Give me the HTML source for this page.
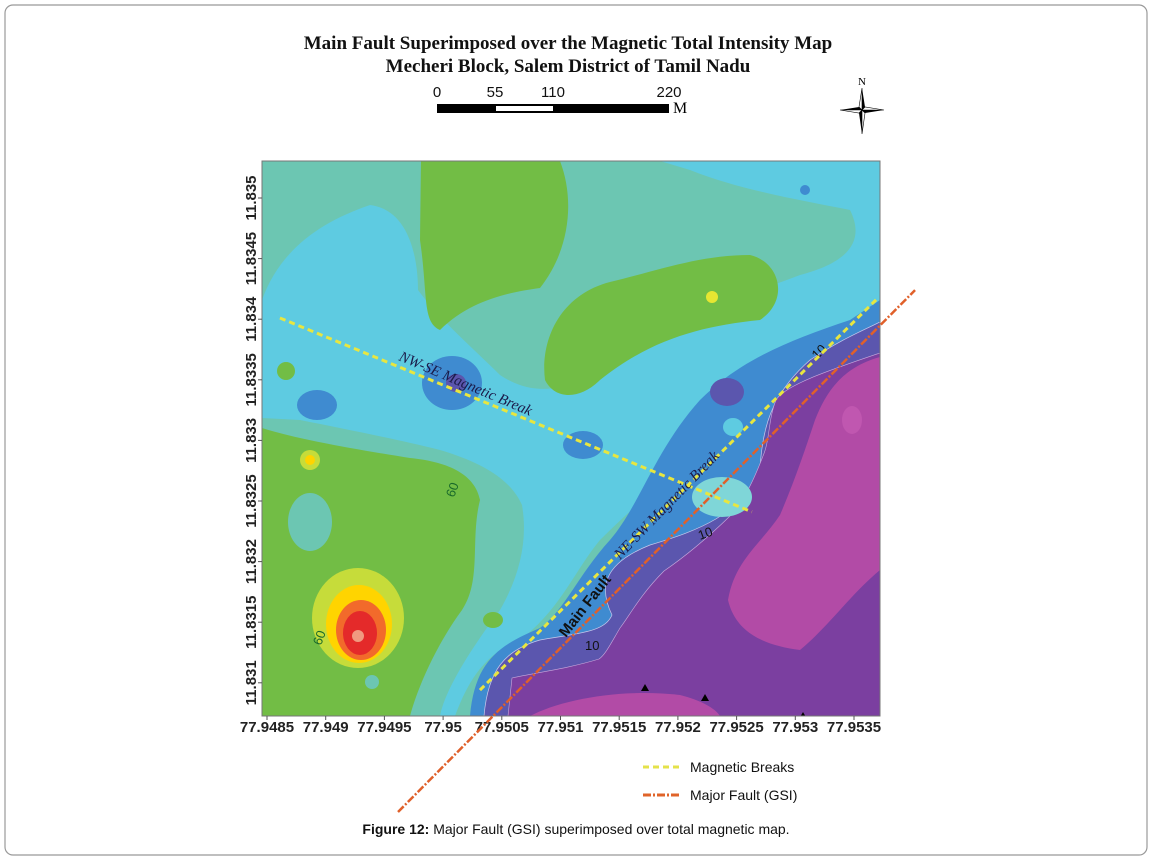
<!DOCTYPE html>
<html><head><meta charset="utf-8"><style>
body{margin:0;background:#fff;}
svg{display:block;font-family:"Liberation Sans",sans-serif;}
</style></head><body>
<svg width="1152" height="860" viewBox="0 0 1152 860">
<rect x="5" y="5" width="1142" height="850" rx="8" fill="#fff" stroke="#999" stroke-width="1.2"/>
<g font-family="Liberation Serif,serif" font-weight="bold" font-size="19" text-anchor="middle" fill="#111">
<text x="568" y="49">Main Fault Superimposed over the Magnetic Total Intensity Map</text>
<text x="568" y="72">Mecheri Block, Salem District of Tamil Nadu</text>
</g>
<g>
<rect x="437" y="104" width="232" height="9" fill="#000"/>
<rect x="496" y="106" width="57" height="5" fill="#fff"/>
<g font-size="15" text-anchor="middle" fill="#111">
<text x="437" y="97">0</text><text x="495" y="97">55</text><text x="553" y="97">110</text><text x="669" y="97">220</text>
</g>
<text x="673" y="113" font-family="Liberation Serif,serif" font-size="16">M</text>
</g>
<g transform="translate(862,110)">
<text x="0" y="-25" font-family="Liberation Serif,serif" font-size="11" text-anchor="middle">N</text>
<polygon points="0,-22 3,-3 0,0" fill="#000"/><polygon points="0,-22 -3,-3 0,0" fill="#fff" stroke="#000" stroke-width=".6"/>
<polygon points="0,24 -3,3 0,0" fill="#000"/><polygon points="0,24 3,3 0,0" fill="#fff" stroke="#000" stroke-width=".6"/>
<polygon points="-22,0 -3,-3 0,0" fill="#000"/><polygon points="-22,0 -3,3 0,0" fill="#fff" stroke="#000" stroke-width=".6"/>
<polygon points="22,0 3,3 0,0" fill="#000"/><polygon points="22,0 3,-3 0,0" fill="#fff" stroke="#000" stroke-width=".6"/>
</g>
<defs><clipPath id="plotclip"><rect x="262" y="161" width="618" height="555"/></clipPath></defs>
<g clip-path="url(#plotclip)">
<rect x="262" y="161" width="618" height="555" fill="#6cc6b2"/>
<path fill="#5ecbe1" d="M262,300 C280,250 320,222 370,205 C410,210 418,260 418,290 C440,320 475,350 500,375 C530,395 560,392 590,375 C615,345 650,318 690,300 C720,305 760,290 800,275 C850,262 865,240 850,210 C800,200 740,190 690,170 L660,161 L880,161 L880,300 C840,330 780,360 720,420 C680,470 640,500 600,540 C575,570 560,610 520,640 C480,655 465,690 455,716 L440,716 C445,690 470,650 500,610 C520,575 528,540 522,505 C510,478 480,462 440,450 C400,440 350,430 300,420 L262,418 Z"/>
<path fill="#72bd45" d="M421,161 L560,161 C575,200 570,250 540,288 C510,292 470,300 440,330 C422,322 428,295 420,240 Z"/>
<path fill="#72bd45" d="M545,380 C540,340 560,295 610,282 C660,270 700,255 750,255 C780,262 790,300 760,320 C700,326 650,340 600,380 C580,400 555,400 545,380 Z"/>
<path fill="#72bd45" d="M262,428 C300,440 360,450 410,458 C450,462 475,475 480,500 C470,540 482,580 462,610 C440,640 420,680 410,716 L262,716 Z"/>
<ellipse cx="310" cy="522" rx="22" ry="29" fill="#6cc6b2"/>
<path fill="#3f8bd0" d="M470,716 C475,660 500,645 540,628 C565,610 578,575 610,540 C640,505 655,450 700,400 C740,360 790,340 850,320 L880,300 L880,716 Z"/>
<ellipse cx="317" cy="405" rx="20" ry="15" fill="#3f8bd0"/>
<ellipse cx="452" cy="383" rx="30" ry="27" fill="#3f8bd0"/>
<ellipse cx="456" cy="383" rx="10" ry="9" fill="#5b55ad"/>
<ellipse cx="583" cy="445" rx="20" ry="14" fill="#3f8bd0"/>
<circle cx="805" cy="190" r="5" fill="#3f8bd0"/>
<path fill="#5b56ae" stroke="#c9c9ec" stroke-width=".7" d="M484,716 C488,670 505,650 540,640 C580,633 605,632 612,615 C600,590 600,565 650,545 C700,530 740,515 760,470 C762,430 770,395 810,360 C840,340 860,332 880,322 L880,716 Z"/>
<ellipse cx="727" cy="392" rx="17" ry="14" fill="#5b56ae"/>
<path fill="#7b3fa0" stroke="#c9a9dd" stroke-width=".6" d="M880,353 C830,370 785,385 776,400 C768,420 770,440 763,456 C750,490 740,505 729,517 C700,545 680,560 664,571 C640,595 630,615 620,628 C610,645 605,655 599,659 C570,668 540,672 512,678 L508,716 L880,716 Z"/>
<path fill="#b24ba6" d="M880,357 C840,368 825,395 815,420 C805,450 795,480 780,515 C760,545 735,560 728,600 C735,630 760,645 800,650 C830,625 850,595 880,570 Z"/>
<path fill="#b24ba6" d="M530,716 C560,700 620,688 680,695 C700,700 715,708 720,716 Z"/>
<ellipse cx="852" cy="420" rx="10" ry="14" fill="#c057b0"/>
<ellipse cx="733" cy="427" rx="10" ry="9" fill="#5ecbe1"/>
<ellipse cx="722" cy="497" rx="30" ry="20" fill="#7fd6d8"/>
<ellipse cx="493" cy="620" rx="10" ry="8" fill="#72bd45"/>
<circle cx="372" cy="682" r="7" fill="#6cc6b2"/>
<g>
<ellipse cx="358" cy="618" rx="46" ry="50" fill="#c6dc3a"/>
<ellipse cx="359" cy="624" rx="33" ry="39" fill="#ffd400"/>
<ellipse cx="361" cy="630" rx="25" ry="30" fill="#f26a2b"/>
<ellipse cx="360" cy="633" rx="17" ry="22" fill="#e42a2a"/>
<circle cx="358" cy="636" r="6" fill="#f09a80"/>
</g>
<circle cx="310" cy="460" r="10" fill="#c6dc3a"/><circle cx="310" cy="460" r="5" fill="#ffd400"/>
<circle cx="712" cy="297" r="6" fill="#e6e632"/>
<circle cx="286" cy="371" r="9" fill="#72bd45"/>
<g fill="#000">
<polygon points="645,684 649,691 641,691"/><polygon points="705,694 709,701 701,701"/><polygon points="803,712 807,719 799,719"/>
</g>
<g font-size="13" fill="#111">
<text transform="translate(817,360) rotate(-45)">10</text>
<text transform="translate(700,540) rotate(-20)">10</text>
<text x="585" y="650">10</text>
<text transform="translate(454,498) rotate(-70)" fill="#1a6a2a">60</text>
<text transform="translate(321,646) rotate(-70)" fill="#1a6a2a">60</text>
</g>
</g>
<rect x="262" y="161" width="618" height="555" fill="none" stroke="#777" stroke-width="1"/>
<g id="axes"></g>
<g id="lines"></g>
<g font-family="Liberation Serif,serif" font-style="italic" font-size="15" fill="#1b1b4a">
<text transform="translate(398,360) rotate(23)">NW-SE Magnetic Break</text>
<text transform="translate(620,560) rotate(-46)">NE-SW Magnetic Break</text>
</g>
<text transform="translate(566,638) rotate(-52)" font-weight="bold" font-size="15" fill="#111">Main Fault</text>
<g>
<line x1="643" y1="767" x2="680" y2="767" stroke="#e4e24a" stroke-width="3" stroke-dasharray="6,4"/>
<text x="690" y="772" font-size="14" fill="#111">Magnetic Breaks</text>
<line x1="643" y1="795" x2="680" y2="795" stroke="#e0642a" stroke-width="3" stroke-dasharray="8,2,2,2"/>
<text x="690" y="800" font-size="14" fill="#111">Major Fault (GSI)</text>
</g>
<text x="576" y="834" font-size="14" text-anchor="middle" fill="#111"><tspan font-weight="bold">Figure 12:</tspan> Major Fault (GSI) superimposed over total magnetic map.</text>
</svg>
<script>
const xTicks=[77.9485,77.949,77.9495,77.95,77.9505,77.951,77.9515,77.952,77.9525,77.953,77.9535];
const yTicks=[11.835,11.8345,11.834,11.8335,11.833,11.8325,11.832,11.8315,11.831];
const faultLon=[77.949616,77.95402];
const faultLat=[11.829934,11.83424];
const neswLon=[77.950314,77.953704];
const neswLat=[11.83094,11.834175];
const nwseLon=[77.94861,77.95263];
const nwseLat=[11.83401,11.83241];
const NS='http://www.w3.org/2000/svg';
function xs(v){return 267+(v-77.9485)/0.0005*58.7;}
function ys(v){return 198+(11.835-v)/0.0005*60.6;}
const axes=document.getElementById('axes');
xTicks.forEach(v=>{
  const k=document.createElementNS(NS,'line');
  
  
  k.setAttribute('x1',xs(v));k.setAttribute('x2',xs(v));k.setAttribute('y1',716);k.setAttribute('y2',720);k.setAttribute('stroke','#555');
  axes.appendChild(k);
  const t=document.createElementNS(NS,'text');
  
  
  t.setAttribute('x',xs(v));t.setAttribute('y',732);
  t.setAttribute('text-anchor','middle');t.setAttribute('font-size','15');t.setAttribute('font-weight','bold');t.setAttribute('fill','#222');
  t.textContent=String(v);axes.appendChild(t);
});
yTicks.forEach(v=>{
  const k=document.createElementNS(NS,'line');
  
  
  k.setAttribute('y1',ys(v));k.setAttribute('y2',ys(v));k.setAttribute('x1',258);k.setAttribute('x2',262);k.setAttribute('stroke','#555');
  axes.appendChild(k);
  const t=document.createElementNS(NS,'text');
  
  
  t.setAttribute('transform','translate(256,'+ys(v)+') rotate(-90)');
  t.setAttribute('text-anchor','middle');t.setAttribute('font-size','15');t.setAttribute('font-weight','bold');t.setAttribute('fill','#222');
  t.textContent=String(v);axes.appendChild(t);
});
const lines=document.getElementById('lines');
function addLine(lon,lat,name,color,dash,w){
  const l=document.createElementNS(NS,'line');
  
  
  l.setAttribute('x1',xs(lon[0]));l.setAttribute('y1',ys(lat[0]));
  l.setAttribute('x2',xs(lon[1]));l.setAttribute('y2',ys(lat[1]));
  l.setAttribute('stroke',color);l.setAttribute('stroke-width',w);l.setAttribute('stroke-dasharray',dash);
  lines.appendChild(l);
}
addLine(nwseLon,nwseLat,'nw-se-magnetic-break','#e8e640','6,4',3);
addLine(neswLon,neswLat,'ne-sw-magnetic-break','#e8e640','6,4',3);
addLine(faultLon,faultLat,'major-fault-gsi','#e0602a','8,2,2,2',2.5);
</script>
</body></html>
